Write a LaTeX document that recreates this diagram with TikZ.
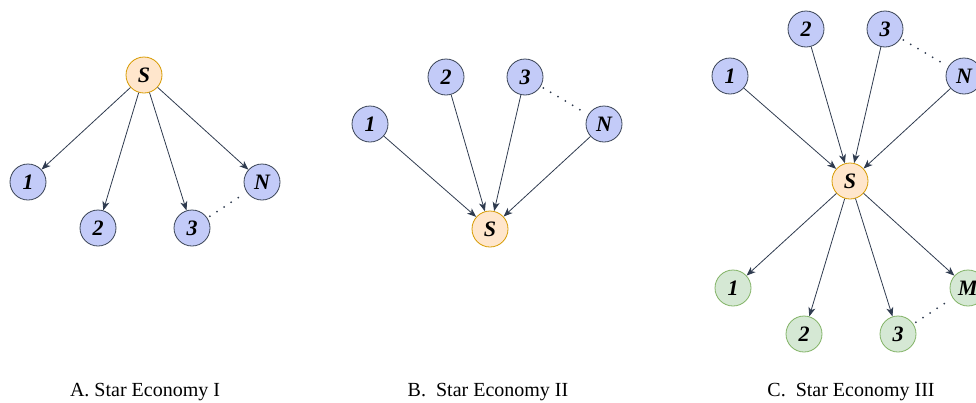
\documentclass[tikz,border=0pt]{standalone}
\usepackage{fontspec}
\setmainfont{Liberation Serif}
\usetikzlibrary{arrows.meta}
\definecolor{bfill}{HTML}{C3CBF8}
\definecolor{bdraw}{HTML}{3A4456}
\definecolor{sfill}{HTML}{FFE6CC}
\definecolor{sdraw}{HTML}{D79B00}
\definecolor{gfill}{HTML}{D5E8D4}
\definecolor{gdraw}{HTML}{82B366}
\definecolor{edge}{HTML}{2F3B4F}
\tikzset{
  x=1pt,y=-1pt,
  base/.style={circle,minimum size=36pt,inner sep=0pt,line width=0.8pt,font=\fontsize{22}{24}\selectfont\bfseries\itshape},
  bnode/.style={base,fill=bfill,draw=bdraw},
  snode/.style={base,fill=sfill,draw=sdraw},
  gnode/.style={base,fill=gfill,draw=gdraw},
  arr/.style={draw=edge,line width=0.8pt,-{Stealth[length=9pt,width=7pt,inset=2.5pt]}},
  dots/.style={draw=edge,line width=2pt,line cap=round,dash pattern=on 0pt off 8.5pt,shorten <=3pt,shorten >=2pt},
  captext/.style={font=\fontsize{20}{22}\selectfont}
}
\begin{document}
\begin{tikzpicture}
\useasboundingbox (0,0) rectangle (976,402);
\begin{scope}
\clip (0,0) rectangle (976,402);
% Panel A
\node[snode] (aS) at (144,75) {S};
\node[bnode] (a1) at (28,182) {1};
\node[bnode] (a2) at (98,228) {2};
\node[bnode] (a3) at (192,228) {3};
\node[bnode] (aN) at (262,182) {N};
\foreach \t in {a1,a2,a3,aN} \draw[arr] (aS) -- (\t);
\draw[dots] (a3) -- (aN);
\node[captext] (capA) at (145,392) {A. Star Economy I};
% Panel B
\node[snode] (bS) at (490,229) {S};
\node[bnode] (b1) at (370,124) {1};
\node[bnode] (b2) at (446,77) {2};
\node[bnode] (b3) at (525,77) {3};
\node[bnode] (bN) at (604,124) {N};
\foreach \t in {b1,b2,b3,bN} \draw[arr] (\t) -- (bS);
\draw[dots] (b3) -- (bN);
\node[captext] (capB) at (488,392) {B.\enspace Star Economy II};
% Panel C
\node[snode] (cS) at (850,181) {S};
\node[bnode] (c1) at (730,76) {1};
\node[bnode] (c2) at (806,29) {2};
\node[bnode] (c3) at (885,29) {3};
\node[bnode] (cN) at (964,76) {N};
\foreach \t in {c1,c2,c3,cN} \draw[arr] (\t) -- (cS);
\draw[dots] (c3) -- (cN);
\node[gnode] (d1) at (733,288) {1};
\node[gnode] (d2) at (804,334) {2};
\node[gnode] (d3) at (898,334) {3};
\node[gnode] (dM) at (968,288) {M};
\foreach \t in {d1,d2,d3,dM} \draw[arr] (cS) -- (\t);
\draw[dots] (d3) -- (dM);
\node[captext] (capC) at (851,392) {C.\enspace Star Economy III};
\end{scope}
\end{tikzpicture}
\end{document}
